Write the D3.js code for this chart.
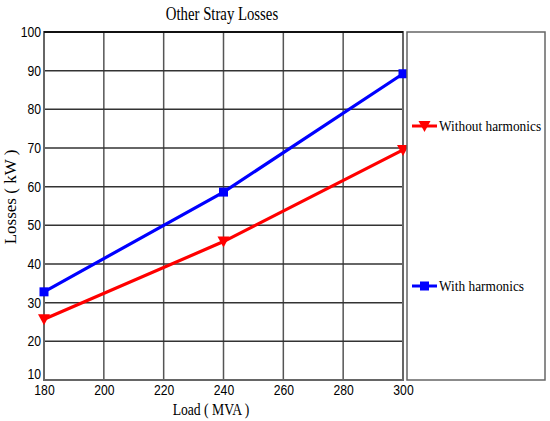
<!DOCTYPE html>
<html>
<head>
<meta charset="utf-8">
<script src="https://cdn.jsdelivr.net/npm/d3@7"></script>
<style>
  body { margin: 0; background: #fff; }
  .tick text { font-family: "Liberation Sans", Arial, sans-serif; font-size: 14px; fill: #000; }
  .lbl { font-family: "Liberation Serif", "Times New Roman", serif; font-size: 17px; fill: #000; }
</style>
</head>
<body>
<script>
var loads = [180, 240, 300];
var withoutHarm = [25.7, 45.8, 69.5];
var withHarm = [32.8, 58.6, 89.2];
var xTicks = [180, 200, 220, 240, 260, 280, 300];
var yTicks = [10, 20, 30, 40, 50, 60, 70, 80, 90, 100];

var W = 550, H = 421;
var margin = { top: 32, left: 44, right: 147, bottom: 41 };
var width = W - margin.left - margin.right,
    height = H - margin.top - margin.bottom;

var svg = d3.select("body").append("svg")
    .attr("width", W)
    .attr("height", H);

// the original picture is squeezed sideways, so horizontal text is narrower
function squeeze(sel, f) {
  sel.each(function () {
    var len = this.getComputedTextLength();
    d3.select(this).attr("textLength", len * f).attr("lengthAdjust", "spacingAndGlyphs");
  });
}

var g = svg.append("g")
    .attr("transform", "translate(" + margin.left + "," + margin.top + ")");

var x = d3.scaleLinear().domain([180, 300]).range([0, width]);
var y = d3.scaleLinear().domain([10, 100]).range([height, 0]);

// grid
g.append("g").selectAll("line").data(xTicks).enter().append("line")
    .attr("x1", d => x(d)).attr("x2", d => x(d))
    .attr("y1", 0).attr("y2", height)
    .attr("stroke", "#555").attr("stroke-width", 1.5);
g.append("g").selectAll("line").data(yTicks).enter().append("line")
    .attr("y1", d => y(d)).attr("y2", d => y(d))
    .attr("x1", 0).attr("x2", width)
    .attr("stroke", "#333").attr("stroke-width", 1.5);

// frame
g.append("rect")
    .attr("width", width).attr("height", height)
    .attr("fill", "none").attr("stroke", "#666").attr("stroke-width", 2);
g.append("line").attr("x1", 0).attr("x2", width).attr("y1", 0).attr("y2", 0)
    .attr("stroke", "#111").attr("stroke-width", 2);

// axes (labels only)
var xAxis = g.append("g")
    .attr("transform", "translate(0," + height + ")")
    .call(d3.axisBottom(x).tickValues(xTicks).tickSize(0).tickPadding(5).tickFormat(d3.format("d")));
xAxis.select(".domain").remove();
squeeze(xAxis.selectAll("text"), 0.87);

var yAxis = g.append("g")
    .call(d3.axisLeft(y).tickValues(yTicks).tickSize(0).tickPadding(3).tickFormat(d3.format("d")));
yAxis.select(".domain").remove();
yAxis.selectAll(".tick").filter(d => d === 10).select("text").attr("dy", "-0.1em");
squeeze(yAxis.selectAll("text"), 0.87);

// series
var series = [
  { name: "With harmonics", values: withHarm, color: "#0000ff", shape: "square" },
  { name: "Without harmonics", values: withoutHarm, color: "#ff0000", shape: "tri" }
];

var line = d3.line().x((d, i) => x(loads[i])).y(d => y(d));

function marker(sel, s) {
  if (s.shape === "square") {
    sel.append("rect").attr("x", -4.5).attr("y", -4.5).attr("width", 9).attr("height", 9)
      .attr("fill", s.color);
  } else {
    sel.append("path").attr("d", "M-6,-5L6,-5L0,6Z").attr("fill", s.color);
  }
}

series.forEach(function (s) {
  g.append("path").datum(s.values)
    .attr("d", line)
    .attr("fill", "none").attr("stroke", s.color).attr("stroke-width", 3.2);
  s.values.forEach(function (v, i) {
    var m = g.append("g").attr("transform", "translate(" + x(loads[i]) + "," + y(v) + ")");
    marker(m, s);
  });
});

// legend box
var lx = margin.left + width + 4, ly = margin.top;
var legend = svg.append("g").attr("transform", "translate(" + lx + "," + ly + ")");
legend.append("rect")
    .attr("width", 138).attr("height", height)
    .attr("fill", "#fff").attr("stroke", "#666").attr("stroke-width", 1.5);

var legendY = { "Without harmonics": 94, "With harmonics": 254 };
series.forEach(function (s) {
  var ey = legendY[s.name];
  var e = legend.append("g").attr("transform", "translate(0," + ey + ")");
  e.append("line").attr("x1", 5).attr("x2", 30).attr("y1", 0).attr("y2", 0)
    .attr("stroke", s.color).attr("stroke-width", 3);
  var m = e.append("g").attr("transform", "translate(17.5,0)");
  marker(m, s);
  var t = e.append("text").attr("class", "lbl").attr("x", 32).attr("y", 0).attr("dy", "0.35em")
    .style("font-size", "14.5px")
    .text(s.name);
  squeeze(t, 0.92);
});

// titles
var title = svg.append("text").attr("class", "lbl")
    .attr("x", 222).attr("y", 20).attr("text-anchor", "middle")
    .style("font-size", "18px")
    .text("Other Stray Losses");
squeeze(title, 0.82);

var xl = svg.append("text").attr("class", "lbl")
    .attr("x", 211).attr("y", 415).attr("text-anchor", "middle")
    .style("font-size", "17.5px")
    .text("Load ( MVA )");
squeeze(xl, 0.78);

svg.append("text").attr("class", "lbl")
    .attr("transform", "translate(16,197) rotate(-90)")
    .attr("text-anchor", "middle")
    .text("Losses ( kW )");
</script>
</body>
</html>
